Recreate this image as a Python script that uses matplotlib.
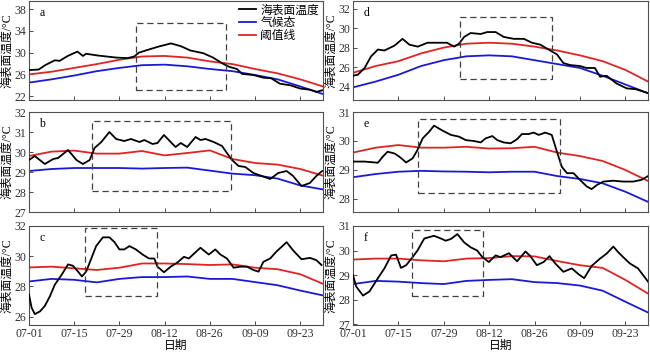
import matplotlib
matplotlib.use("Agg")
import matplotlib.pyplot as plt
from matplotlib.patches import Rectangle

plt.rcParams['font.family'] = ['Liberation Serif', 'Noto Sans CJK SC']
plt.rcParams['axes.unicode_minus'] = False

# day index from 07-01
grid = [0, 7, 14, 21, 28, 35, 42, 49, 56, 63, 70, 77, 84, 91]
tick_days = [0, 14, 28, 42, 56, 70, 84]
tick_labels = ['07-01', '07-15', '07-29', '08-12', '08-26', '09-09', '09-23']

# panel a
sst_days_a = [0, 3, 5, 8, 9.5, 12, 15, 16.7, 17.7, 21, 24, 27, 30.5, 32.6, 34, 36.7, 40, 44, 47,
              50, 54, 57, 60, 62, 64.4, 66, 69.5, 72.6, 75, 77.7, 81, 84, 87, 89, 91]
sst_a = [26.8, 26.9, 27.7, 28.6, 28.5, 29.4, 30.2, 29.4, 29.8, 29.5, 29.3, 29.1, 29.0, 29.3, 30.0,
         30.5, 31.1, 31.7, 31.2, 30.4, 29.9, 29.1, 28.0, 27.4, 27.0, 26.1, 25.9, 25.4, 25.3, 24.3,
         24.0, 23.4, 23.2, 22.8, 23.1]
clim_a = [24.5, 25.1, 25.8, 26.6, 27.2, 27.7, 27.8, 27.5, 27.0, 26.6, 25.9, 25.1, 23.8, 22.4]
thr_a = [26.0, 26.5, 27.2, 27.9, 28.7, 29.3, 29.4, 29.1, 28.4, 27.9, 27.0, 26.2, 25.1, 23.8]

# panel b
sst_days_b = [0, 1.8, 4.9, 7.5, 9, 12.1, 14.7, 16.7, 18.8, 20.3, 22.4, 24.9, 27, 29.5, 31.6, 34.2,
              35.7, 38.3, 39.8, 41.8, 43.9, 45.4, 47, 49, 51.6, 53.1, 54.7, 57.2, 59.8, 61.3, 62.9,
              64.9, 67, 69.5, 72.1, 74.7, 77.2, 79.8, 81.8, 84.4, 87, 89, 90.8]
sst_b = [29.6, 29.8, 29.4, 29.65, 29.7, 30.1, 29.6, 29.4, 29.6, 30.2, 30.5, 31.0, 30.65, 30.55,
         30.65, 30.5, 30.6, 30.4, 30.45, 30.85, 30.5, 30.25, 30.45, 30.25, 30.75, 30.6, 30.65,
         30.5, 30.3, 29.95, 29.6, 29.3, 29.25, 28.95, 28.8, 28.65, 28.95, 29.05, 28.8, 28.3,
         28.45, 28.8, 29.05]
clim_b = [29.05, 29.15, 29.2, 29.2, 29.2, 29.17, 29.2, 29.22, 29.07, 28.92, 28.84, 28.67, 28.33, 28.13]
thr_b = [29.8, 30.02, 30.07, 29.92, 29.92, 30.05, 29.83, 29.95, 30.08, 29.65, 29.45, 29.37, 29.15, 28.82]

# panel c
sst_days_c = [0, 0.8, 1.8, 3.4, 4.9, 6.5, 8, 10.1, 12.1, 13.6, 15.2, 16.4, 17.7, 19.3, 20.8, 22.9,
              24.9, 26.5, 28, 29.5, 31.1, 33.1, 35.2, 37.2, 38.8, 39.8, 41.8, 43.9, 46, 48, 49.5,
              51.1, 53.1, 55.7, 57.7, 59.3, 61.3, 63.4, 65.4, 67.5, 69.5, 71.1, 72.6, 74.7, 76.7,
              79.8, 81.8, 84.4, 87, 89, 90.6]
sst_c = [27.47, 26.6, 26.17, 26.35, 26.71, 27.36, 28.12, 28.77, 29.46, 29.37, 28.98, 28.66, 28.98,
         29.85, 30.67, 31.25, 31.25, 30.93, 30.45, 30.45, 30.67, 30.45, 30.11, 29.85, 29.85,
         29.31, 28.94, 29.31, 29.59, 29.96, 29.85, 30.17, 30.56, 30.11, 30.45, 30.11, 29.85,
         29.24, 29.31, 29.31, 29.09, 28.98, 29.63, 29.85, 30.32, 30.93, 30.39, 29.8, 29.89,
         29.74, 29.42]
clim_c = [28.33, 28.5, 28.44, 28.27, 28.5, 28.62, 28.62, 28.66, 28.5, 28.5, 28.29, 28.08, 27.73, 27.41]
thr_c = [29.26, 29.31, 29.2, 29.09, 29.24, 29.52, 29.52, 29.48, 29.42, 29.46, 29.24, 29.14, 28.81, 28.18]

# panel d
sst_days_d = [0, 1.5, 3.6, 5.6, 7.7, 9.7, 12.8, 15.3, 17.4, 20, 23, 26, 29, 31.2, 32.7, 34.3, 36.3,
              39.4, 41.4, 44, 46.5, 49.6, 52.7, 55.2, 57.8, 60.3, 62.9, 64.9, 67, 70, 72, 74.6,
              76.2, 78.2, 81.3, 84.4, 87.4, 91]
sst_d = [25.1, 25.2, 25.9, 27.1, 27.8, 27.7, 28.2, 28.9, 28.3, 28.1, 28.5, 28.5, 28.5, 28.1, 28.4,
         29.1, 29.5, 29.4, 29.6, 29.6, 29.1, 28.9, 28.9, 28.5, 28.3, 27.8, 27.3, 26.4, 26.2, 26.1,
         25.9, 25.9, 25.0, 25.1, 24.3, 23.8, 23.7, 23.3]
clim_d = [23.9, 24.5, 25.2, 26.1, 26.7, 27.1, 27.2, 27.1, 26.7, 26.3, 25.9, 25.1, 24.2, 23.3]
thr_d = [25.4, 26.1, 26.6, 27.4, 28.0, 28.4, 28.5, 28.4, 28.1, 27.7, 27.2, 26.6, 25.7, 24.5]

# panel e
sst_days_e = [0, 3.6, 7.7, 9.2, 10.7, 12.8, 14.3, 16.4, 18.4, 19.9, 21.5, 23.5, 25, 27.6, 30.2,
              32.7, 34.8, 37.3, 39.4, 40.9, 43, 44.5, 46.5, 48.6, 50.6, 52.1, 54.2, 55.7, 57.3,
              59.3, 61.3, 62.9, 64.4, 66, 68, 70, 72.1, 73.6, 75.2, 77.2, 80.3, 83.3, 86.4, 89, 91]
sst_e = [29.29, 29.29, 29.25, 29.46, 29.63, 29.57, 29.46, 29.26, 29.4, 29.69, 30.09, 30.32, 30.53,
         30.36, 30.21, 30.15, 30.03, 30.0, 29.95, 30.09, 30.17, 30.03, 29.95, 29.92, 30.06,
         30.24, 30.24, 30.29, 30.21, 30.29, 30.21, 29.63, 29.11, 28.89, 28.89, 28.66, 28.43,
         28.34, 28.48, 28.6, 28.63, 28.6, 28.6, 28.66, 28.79]
clim_e = [28.75, 28.86, 28.94, 28.97, 28.95, 28.94, 28.92, 28.94, 28.94, 28.79, 28.69, 28.54, 28.25, 27.9]
thr_e = [29.6, 29.77, 29.86, 29.77, 29.77, 29.8, 29.74, 29.75, 29.8, 29.6, 29.48, 29.31, 29.0, 28.62]

# panel f
sst_days_f = [0, 1, 3.1, 5.1, 7.7, 9.7, 11.8, 13.3, 14.8, 16.4, 18.4, 19.9, 22, 25, 27.1, 28.6,
              30.2, 32.2, 34.3, 36.3, 38.3, 39.9, 41.9, 44, 45.5, 48.1, 50.6, 53.2, 54.7, 56.7,
              58.8, 60.6, 62.4, 64.9, 67.5, 69.5, 71.3, 73.6, 76.2, 78.2, 80.3, 81.8, 83.8, 85.4,
              87.9, 91]
sst_f = [29.0, 28.53, 28.16, 28.33, 28.87, 29.27, 29.8, 29.83, 29.29, 29.4, 29.73, 30.0, 30.49,
         30.6, 30.49, 30.4, 30.47, 30.67, 30.33, 30.13, 30.0, 29.73, 29.53, 29.8, 29.73, 29.89,
         29.56, 29.96, 29.77, 29.4, 29.53, 29.77, 29.47, 29.13, 29.27, 29.04, 28.87, 29.37,
         29.67, 29.87, 30.16, 29.93, 29.67, 29.47, 29.27, 28.73]
clim_f = [28.63, 28.76, 28.73, 28.67, 28.63, 28.76, 28.8, 28.83, 28.71, 28.67, 28.57, 28.36, 27.91, 27.47]
thr_f = [29.63, 29.67, 29.67, 29.6, 29.56, 29.67, 29.69, 29.77, 29.76, 29.57, 29.4, 29.29, 28.8, 28.24]

# dashed boxes: day start, day end, low, high
box_a = [33.2, 61.0, 23.1, 35.4]
box_b = [19.6, 62.5, 28.05, 31.57]
box_c = [17.5, 39.5, 27.4, 31.9]
box_d = [33.0, 61.3, 24.8, 31.2]
box_e = [20.2, 64.0, 28.2, 30.76]
box_f = [18.1, 40.0, 28.14, 30.84]

panels = [
    ('a', sst_days_a, sst_a, clim_a, thr_a, box_a, (21.3, 39.5), [22, 26, 30, 34, 38]),
    ('b', sst_days_b, sst_b, clim_b, thr_b, box_b, (27.0, 32.0), [27, 28, 29, 30, 31, 32]),
    ('c', sst_days_c, sst_c, clim_c, thr_c, box_c, (25.45, 31.95), [26, 28, 30, 32]),
    ('d', sst_days_d, sst_d, clim_d, thr_d, box_d, (22.6, 32.8), [24, 26, 28, 30, 32]),
    ('e', sst_days_e, sst_e, clim_e, thr_e, box_e, (27.55, 31.0), [28, 29, 30, 31]),
    ('f', sst_days_f, sst_f, clim_f, thr_f, box_f, (26.96, 30.95), [27, 28, 29, 30, 31]),
]

fig = plt.figure(figsize=(6.5, 3.54), dpi=100)
col_x = [0.0446, 0.543]
col_w = [0.452, 0.454]
row_y = [(0.7175, 0.2797), (0.4011, 0.2825), (0.0819, 0.2797)]

for i, (letter, sd, s, c, t, box, ylim, yt) in enumerate(panels):
    col, row = divmod(i, 3)
    ax = fig.add_axes([col_x[col], row_y[row][0], col_w[col], row_y[row][1]])
    ax.plot(grid, c, color='#1a1ad6', lw=1.3, label='气候态', zorder=2)
    ax.plot(grid, t, color='#e02424', lw=1.3, label='阈值线', zorder=2)
    ax.plot(sd, s, color='black', lw=1.3, label='海表面温度', zorder=3)
    ax.add_patch(Rectangle((box[0], box[2]), box[1] - box[0], box[3] - box[2], fill=False,
                           ls=(0, (5, 3)), lw=0.9, ec='#404040', zorder=4))
    ax.set_xlim(0, 91)
    ax.set_ylim(*ylim)
    ax.set_yticks(yt)
    ax.set_xticks(tick_days)
    if row == 2:
        ax.set_xticklabels(tick_labels)
        ax.set_xlabel('日期', fontsize=8.5, labelpad=0)
    else:
        ax.set_xticklabels([])
    ax.tick_params(direction='in', labelsize=8.5, length=3, width=0.6, colors='#303030', pad=2)
    for sp in ax.spines.values():
        sp.set_color('#505050')
        sp.set_linewidth(0.8)
    ax.set_ylabel('海表面温度/°C', fontsize=8.5, labelpad=1)
    ax.text(0.035, 0.88, letter, transform=ax.transAxes, fontsize=8.5, va='center')
    if letter == 'a':
        h, l = ax.get_legend_handles_labels()
        ax.legend([h[2], h[0], h[1]], [l[2], l[0], l[1]], loc='upper right', frameon=False,
                  fontsize=8.5, handlelength=1.4, handletextpad=0.4, labelspacing=0.05,
                  borderaxespad=0.2, borderpad=0.1)

fig.savefig('out.png', dpi=100)
